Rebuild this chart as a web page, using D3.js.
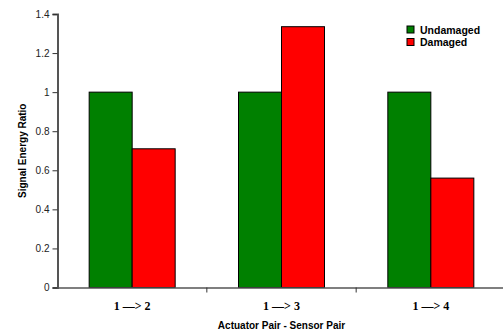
<!DOCTYPE html>
<html><head><meta charset="utf-8">
<script src="https://cdn.jsdelivr.net/npm/d3@7"></script>
<style>body{margin:0;background:#fff}</style>
</head><body>
<svg id="c" width="503" height="333"></svg>
<script>
const categories = ["1 \u2014> 2", "1 \u2014> 3", "1 \u2014> 4"];
const seriesNames = ["Undamaged", "Damaged"];
const undamaged = [1, 1, 1];
const damaged = [0.71, 1.335, 0.56];
const yTicks = [0, 0.2, 0.4, 0.6, 0.8, 1, 1.2, 1.4];
const colors = ["#008000", "#ff0000"];

const svg = d3.select("#c");
const mLeft = 57.5, mRight = 505.5, mTop = 14, mBottom = 287.5;
const x = d3.scaleBand().domain(categories).range([mLeft, mRight]).paddingInner(0).paddingOuter(0);
const x1 = d3.scaleBand().domain(seriesNames).range([0, 86]);
const y = d3.scaleLinear().domain([0, 1.4]).range([mBottom, mTop]);
const values = [undamaged, damaged];

// bars
categories.forEach((c, i) => {
  const g0 = x(c) + (x.bandwidth() - 86) / 2;
  seriesNames.forEach((s, j) => {
    svg.append("rect")
      .attr("x", g0 + x1(s)).attr("y", y(values[j][i]))
      .attr("width", x1.bandwidth()).attr("height", y(0) - y(values[j][i]))
      .attr("fill", colors[j]).attr("stroke", "#000").attr("stroke-width", 1);
  });
});

// y axis
const ya = svg.append("g").attr("transform", `translate(${mLeft},0)`)
  .call(d3.axisLeft(y).tickValues(yTicks).tickFormat(d3.format("~g")).tickSize(5).tickPadding(3));
ya.select(".domain").attr("stroke", "#555").attr("stroke-width", 2);
ya.selectAll(".tick line").attr("stroke", "#333");
ya.selectAll("text").attr("font-family", "Liberation Sans, Arial, sans-serif").attr("font-size", 10).attr("fill", "#222");

// x axis
const xa = svg.append("g").attr("transform", `translate(0,${mBottom})`)
  .call(d3.axisBottom(x).tickSize(0).tickPadding(14));
xa.select(".domain").attr("stroke", "#555").attr("stroke-width", 1.5);
xa.selectAll("text").attr("font-family", "Liberation Serif, Times New Roman, serif").attr("font-weight", "bold").attr("font-size", 12).attr("fill", "#000");
xa.selectAll(".bt").data(categories.slice(1)).enter().append("line")
  .attr("x1", d => x(d)).attr("x2", d => x(d)).attr("y1", 0).attr("y2", 5)
  .attr("stroke", "#333");

// titles
svg.append("text").attr("x", (mLeft + mRight) / 2).attr("y", 329)
  .attr("text-anchor", "middle").attr("font-family", "Liberation Sans, Arial, sans-serif")
  .attr("font-weight", "bold").attr("font-size", 10).text("Actuator Pair - Sensor Pair");
svg.append("text").attr("transform", `translate(26,${(mTop + mBottom) / 2}) rotate(-90)`)
  .attr("text-anchor", "middle").attr("font-family", "Liberation Sans, Arial, sans-serif")
  .attr("font-weight", "bold").attr("font-size", 10).text("Signal Energy Ratio");

// legend
const lg = svg.append("g").attr("transform", "translate(407,23)");
seriesNames.forEach((s, j) => {
  lg.append("rect").attr("x", 0).attr("y", j * 12.5 + 3).attr("width", 7).attr("height", 7)
    .attr("fill", colors[j]).attr("stroke", "#000").attr("stroke-width", 1);
  lg.append("text").attr("x", 13).attr("y", j * 12.5 + 10.5)
    .attr("font-family", "Liberation Sans, Arial, sans-serif").attr("font-weight", "bold")
    .attr("font-size", 10.5).attr("fill", "#000").text(s);
});
</script>
</body></html>
